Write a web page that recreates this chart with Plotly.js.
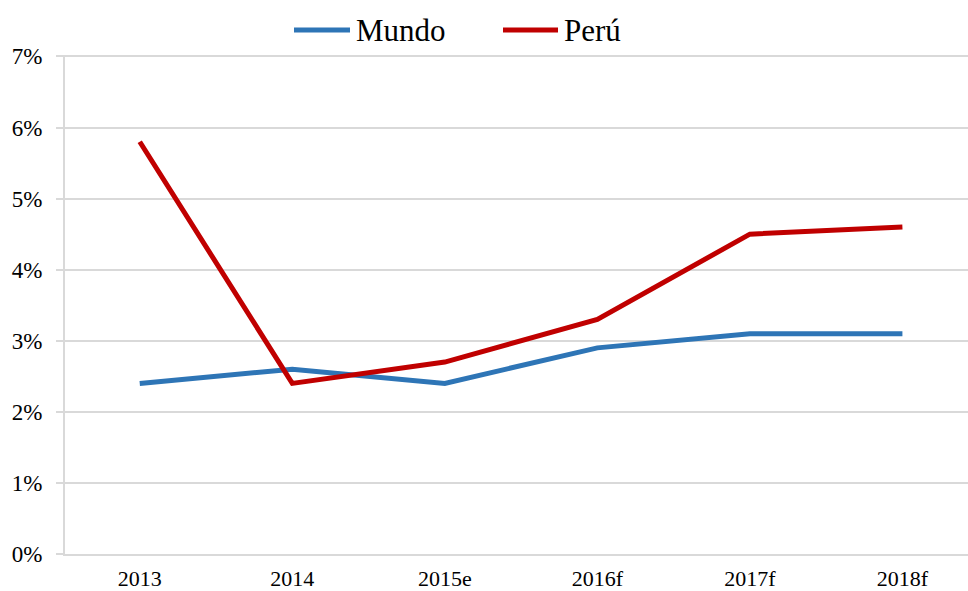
<!DOCTYPE html>
<html>
<head>
<meta charset="utf-8">
<script src="https://cdn.plot.ly/plotly-3.0.1.min.js"></script>
<style>html,body{margin:0;padding:0;background:#fff;}#chart{width:968px;height:591px;}</style>
</head>
<body>
<div id="chart"></div>
<script>
const categories = ["2013", "2014", "2015e", "2016f", "2017f", "2018f"];
const mundo = [0.024, 0.026, 0.024, 0.029, 0.031, 0.031];
const peru = [0.058, 0.024, 0.027, 0.033, 0.045, 0.046];
const seriesNames = ["Mundo", "Perú"];
const seriesColors = ["#2E75B6", "#C00000"];
const yTicks = [0, 0.01, 0.02, 0.03, 0.04, 0.05, 0.06, 0.07];

const font = "Liberation Serif, Times New Roman, serif";

const traces = [mundo, peru].map((vals, i) => ({
  type: "scatter",
  mode: "lines",
  x: categories,
  y: vals,
  name: seriesNames[i],
  line: {color: seriesColors[i], width: 5},
  showlegend: false,
  hoverinfo: "skip"
}));

// custom legend (line sample + label) positioned in paper coordinates
const legendPos = [
  {x0: 294, x1: 350, tx: 354},
  {x0: 503, x1: 558, tx: 562}
];
const W = 968, H = 591, ml = 65, mr = 0, mt = 55, mb = 37;
const pw = W - ml - mr, ph = H - mt - mb;
const toPx = px => (px - ml) / pw;
const toPy = py => (H - mb - py) / ph;
const shapes = legendPos.map((p, i) => ({
  type: "line", xref: "paper", yref: "paper",
  x0: toPx(p.x0), x1: toPx(p.x1), y0: toPy(30), y1: toPy(30),
  line: {color: seriesColors[i], width: 5}
}));
const annotations = legendPos.map((p, i) => ({
  xref: "paper", yref: "paper",
  x: toPx(p.tx), y: toPy(30), xanchor: "left", yanchor: "middle",
  text: seriesNames[i], showarrow: false,
  font: {family: font, size: 31, color: "#000"}
}));

const layout = {
  width: W, height: H,
  margin: {l: ml, r: mr, t: mt, b: mb, pad: 0},
  paper_bgcolor: "#fff", plot_bgcolor: "#fff",
  showlegend: false,
  xaxis: {
    type: "category",
    range: [-0.49, 5.43],
    showgrid: false,
    showline: true, linecolor: "#d9d9d9", linewidth: 2,
    ticks: "", ticklabelstandoff: 4,
    tickfont: {family: font, size: 22, color: "#000"},
    fixedrange: true
  },
  yaxis: {
    range: [0, 0.0702],
    tickvals: yTicks,
    tickformat: ".0%",
    showgrid: true, gridcolor: "#d9d9d9", gridwidth: 2,
    zeroline: false,
    showline: true, linecolor: "#d9d9d9", linewidth: 2,
    ticks: "outside", ticklen: 7, tickcolor: "#d9d9d9", tickwidth: 2,
    ticklabelstandoff: 9,
    tickfont: {family: font, size: 23, color: "#000"},
    fixedrange: true
  },
  shapes: shapes,
  annotations: annotations
};

Plotly.newPlot("chart", traces, layout, {displayModeBar: false, staticPlot: true});
</script>
</body>
</html>
